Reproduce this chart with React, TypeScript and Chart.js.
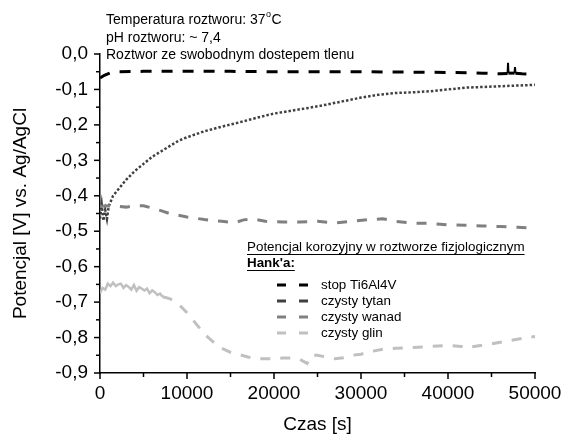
import React, { useEffect, useRef } from 'react';
import { Chart, registerables } from 'chart.js';
Chart.register(...registerables);

const FONT = '"Liberation Sans", Arial, sans-serif';

// ---- data ----
const tiTime = [0, 500, 1200, 2000, 5000, 10000, 15000, 20000, 25000, 30000, 35000, 40000, 44000, 46000, 46850, 46900, 46950, 47650, 47700, 47750, 48500, 50000];
const tiVal = [-0.068, -0.06, -0.053, -0.05, -0.049, -0.049, -0.049, -0.05, -0.05, -0.05, -0.051, -0.052, -0.054, -0.056, -0.055, -0.025, -0.054, -0.054, -0.037, -0.054, -0.056, -0.057];

const tytanTime = [0, 200, 400, 600, 800, 1000, 1500, 2000, 3000, 4000, 5000, 6000, 7000, 8000, 9000, 10000, 12000, 14000, 16000, 18000, 20000, 22000, 24000, 26000, 28000, 30000, 32000, 34000, 36000, 38000, 40000, 42000, 44000, 46000, 48000, 50000];
const tytanVal = [-0.465, -0.425, -0.47, -0.44, -0.465, -0.43, -0.40, -0.385, -0.355, -0.33, -0.31, -0.29, -0.275, -0.26, -0.245, -0.235, -0.218, -0.205, -0.193, -0.18, -0.168, -0.16, -0.152, -0.143, -0.133, -0.123, -0.115, -0.11, -0.108, -0.105, -0.1, -0.095, -0.093, -0.091, -0.089, -0.087];

const wanadTime = [0, 700, 2000, 3000, 4000, 5000, 6000, 7000, 8000, 10000, 12000, 14000, 15500, 16500, 17500, 19000, 21000, 23000, 25000, 27000, 29000, 31000, 32500, 34000, 36000, 38000, 40000, 42000, 44000, 46000, 48000, 50000];
const wanadVal = [-0.43, -0.428, -0.43, -0.432, -0.428, -0.428, -0.435, -0.442, -0.45, -0.46, -0.467, -0.472, -0.476, -0.468, -0.465, -0.472, -0.474, -0.474, -0.472, -0.477, -0.472, -0.467, -0.465, -0.472, -0.477, -0.478, -0.482, -0.483, -0.485, -0.487, -0.489, -0.492];

const glinTime = [0, 300, 600, 900, 1200, 1500, 1800, 2100, 2400, 2700, 3000, 3300, 3600, 3900, 4200, 4500, 4800, 5100, 5400, 5700, 6000, 6300, 6600, 6900, 7200, 8000, 9000, 10000, 11000, 12000, 13000, 14000, 15000, 16000, 17000, 18000, 19000, 20000, 21000, 22000, 23000, 23800, 24300, 25000, 26000, 27000, 28000, 29000, 30000, 31000, 32500, 34000, 36000, 38000, 40000, 41500, 42300, 43000, 44500, 46800, 49000, 50000];
const glinVal = [-0.675, -0.66, -0.665, -0.648, -0.655, -0.645, -0.655, -0.65, -0.648, -0.66, -0.652, -0.657, -0.665, -0.652, -0.668, -0.658, -0.662, -0.667, -0.662, -0.675, -0.667, -0.672, -0.68, -0.676, -0.685, -0.69, -0.705, -0.73, -0.76, -0.79, -0.812, -0.83, -0.842, -0.848, -0.855, -0.86, -0.86, -0.86, -0.858, -0.858, -0.862, -0.873, -0.85, -0.85, -0.855, -0.86, -0.857, -0.85, -0.847, -0.84, -0.833, -0.83, -0.828, -0.825, -0.822, -0.825, -0.83, -0.825, -0.82, -0.81, -0.8, -0.797];

const seriesLabels = ['stop Ti6Al4V', 'czysty tytan', 'czysty wanad', 'czysty glin'];
const seriesColors = ['#000000', '#404040', '#808080', '#c0c0c0'];

const xTickValues = [0, 10000, 20000, 30000, 40000, 50000];
const yMin = -0.9;
const yMax = 0;

const noteLines = ['Temperatura roztworu: 37', 'pH roztworu: ~ 7,4', 'Roztwor ze swobodnym dostepem tlenu'];
const legendTitle1 = 'Potencjal korozyjny w roztworze fizjologicznym';
const legendTitle2 = "Hank'a:";
const xTitle = 'Czas [s]';
const yTitle = 'Potencjal [V] vs. Ag/AgCl';

const zip = (t: number[], v: number[]) => t.map((x, i) => ({ x, y: v[i] }));

const decorPlugin = {
  id: 'decor',
  afterDraw(chart: any) {
    const ctx = chart.ctx;
    const xs = chart.scales.x;
    const ys = chart.scales.y;
    const ca = chart.chartArea;
    ctx.save();
    ctx.strokeStyle = '#000';
    ctx.lineWidth = 1.5;
    // x ticks
    for (let v = 0; v <= 50000; v += 5000) {
      const px = xs.getPixelForValue(v);
      const len = v % 10000 === 0 ? 6 : 4;
      ctx.beginPath();
      ctx.moveTo(px, ca.bottom);
      ctx.lineTo(px, ca.bottom + len);
      ctx.stroke();
    }
    // y ticks
    for (let i = 0; i <= 18; i++) {
      const v = -i * 0.05;
      const py = ys.getPixelForValue(v);
      const len = i % 2 === 0 ? 6 : 4;
      ctx.beginPath();
      ctx.moveTo(ca.left, py);
      ctx.lineTo(ca.left - len, py);
      ctx.stroke();
    }
    // axis titles
    ctx.fillStyle = '#000';
    ctx.font = `19px ${FONT}`;
    ctx.textAlign = 'center';
    ctx.textBaseline = 'middle';
    ctx.fillText(xTitle, (ca.left + ca.right) / 2, 425);
    ctx.save();
    ctx.translate(21, (ca.top + ca.bottom) / 2);
    ctx.rotate(-Math.PI / 2);
    ctx.fillText(yTitle, 0, 0);
    ctx.restore();

    // notes
    ctx.textAlign = 'left';
    ctx.textBaseline = 'middle';
    ctx.font = `14px ${FONT}`;
    const nx = 106;
    const ny = [20, 38, 55];
    ctx.fillText(noteLines[0], nx, ny[0]);
    const w = ctx.measureText(noteLines[0]).width;
    ctx.font = `9px ${FONT}`;
    ctx.fillText('o', nx + w + 0.5, ny[0] - 5);
    const w2 = ctx.measureText('o').width;
    ctx.font = `14px ${FONT}`;
    ctx.fillText('C', nx + w + w2 + 1, ny[0]);
    ctx.fillText(noteLines[1], nx, ny[1]);
    ctx.fillText(noteLines[2], nx, ny[2]);

    // legend
    const lx = 247;
    ctx.font = `13.4px ${FONT}`;
    ctx.fillText(legendTitle1, lx, 247);
    let tw = ctx.measureText(legendTitle1).width;
    ctx.lineWidth = 1;
    ctx.beginPath();
    ctx.moveTo(lx, 254.5);
    ctx.lineTo(lx + tw, 254.5);
    ctx.stroke();
    ctx.font = `bold 13.4px ${FONT}`;
    ctx.fillText(legendTitle2, lx, 263);
    tw = ctx.measureText(legendTitle2).width;
    ctx.beginPath();
    ctx.moveTo(lx, 270.5);
    ctx.lineTo(lx + tw, 270.5);
    ctx.stroke();
    ctx.font = `13.4px ${FONT}`;
    const rows = [285, 301, 317, 333];
    seriesLabels.forEach((lab, i) => {
      const y = rows[i];
      ctx.strokeStyle = seriesColors[i];
      ctx.lineWidth = 3;
      ctx.beginPath();
      ctx.moveTo(277, y);
      ctx.lineTo(286, y);
      ctx.moveTo(299, y);
      ctx.lineTo(308, y);
      ctx.stroke();
      ctx.fillStyle = '#000';
      ctx.fillText(lab, 321, y);
    });
    ctx.restore();
  },
};

export default function App() {
  const ref = useRef<HTMLCanvasElement | null>(null);
  useEffect(() => {
    if (!ref.current) return;
    const chart = new Chart(ref.current, {
      type: 'line',
      data: {
        datasets: [
          {
            label: seriesLabels[3],
            data: zip(glinTime, glinVal),
            borderColor: seriesColors[3],
            borderWidth: 3,
            pointRadius: 0,
            tension: 0,
            segment: {
              borderDash: (c: any) => (c.p1.parsed.x <= 7200 ? [] : [10, 10]),
              borderWidth: (c: any) => (c.p1.parsed.x <= 7200 ? 2.5 : 3),
            },
          } as any,
          {
            label: seriesLabels[2],
            data: zip(wanadTime, wanadVal),
            borderColor: seriesColors[2],
            borderWidth: 3,
            borderDash: [10, 10],
            pointRadius: 0,
            tension: 0,
          },
          {
            label: seriesLabels[1],
            data: zip(tytanTime, tytanVal),
            borderColor: seriesColors[1],
            borderWidth: 2.5,
            borderDash: [2.5, 2],
            pointRadius: 0,
            tension: 0,
          },
          {
            label: seriesLabels[0],
            data: zip(tiTime, tiVal),
            borderColor: seriesColors[0],
            borderWidth: 3,
            borderDash: [11, 10],
            pointRadius: 0,
            tension: 0,
            segment: {
              borderDash: (c: any) => (c.p1.parsed.x - c.p0.parsed.x < 200 ? [] : [11, 10]),
              borderWidth: (c: any) => (c.p1.parsed.x - c.p0.parsed.x < 200 ? 2 : 3),
            },
          } as any,
        ],
      },
      options: {
        animation: false,
        responsive: false,
        layout: { padding: { left: 0, right: 30, top: 54, bottom: 0 } },
        plugins: { legend: { display: false }, tooltip: { enabled: false } },
        scales: {
          x: {
            type: 'linear',
            min: 0,
            max: 50000,
            afterFit: (s: any) => { s.height = 62; s.paddingLeft = 0; s.paddingRight = 0; },
            afterBuildTicks: (s: any) => { s.ticks = xTickValues.map((v) => ({ value: v })); },
            grid: { display: false, drawTicks: false },
            border: { display: true, color: '#000', width: 1.5 },
            ticks: {
              padding: 9,
              color: '#000',
              font: { family: FONT, size: 19 },
              maxRotation: 0,
              autoSkip: false,
              callback: (v: any) => String(v),
            },
          },
          y: {
            type: 'linear',
            min: yMin,
            max: yMax,
            afterFit: (s: any) => { s.width = 100; s.paddingTop = 0; s.paddingBottom = 0; },
            grid: { display: false, drawTicks: false },
            border: { display: true, color: '#000', width: 1.5 },
            ticks: {
              stepSize: 0.1,
              padding: 12,
              color: '#000',
              autoSkip: false,
              font: { family: FONT, size: 19 },
              callback: (v: any) => {
                const n = Math.abs(v) < 1e-9 ? 0 : v;
                return n.toFixed(1).replace('.', ',');
              },
            },
          },
        },
      } as any,
      plugins: [decorPlugin],
    });
    return () => chart.destroy();
  }, []);
  return (
    <div style={{ position: 'fixed', left: 0, top: 0, width: 565, height: 435, background: '#fff' }}>
      <canvas ref={ref} width={565} height={435} style={{ width: 565, height: 435 }} />
    </div>
  );
}
